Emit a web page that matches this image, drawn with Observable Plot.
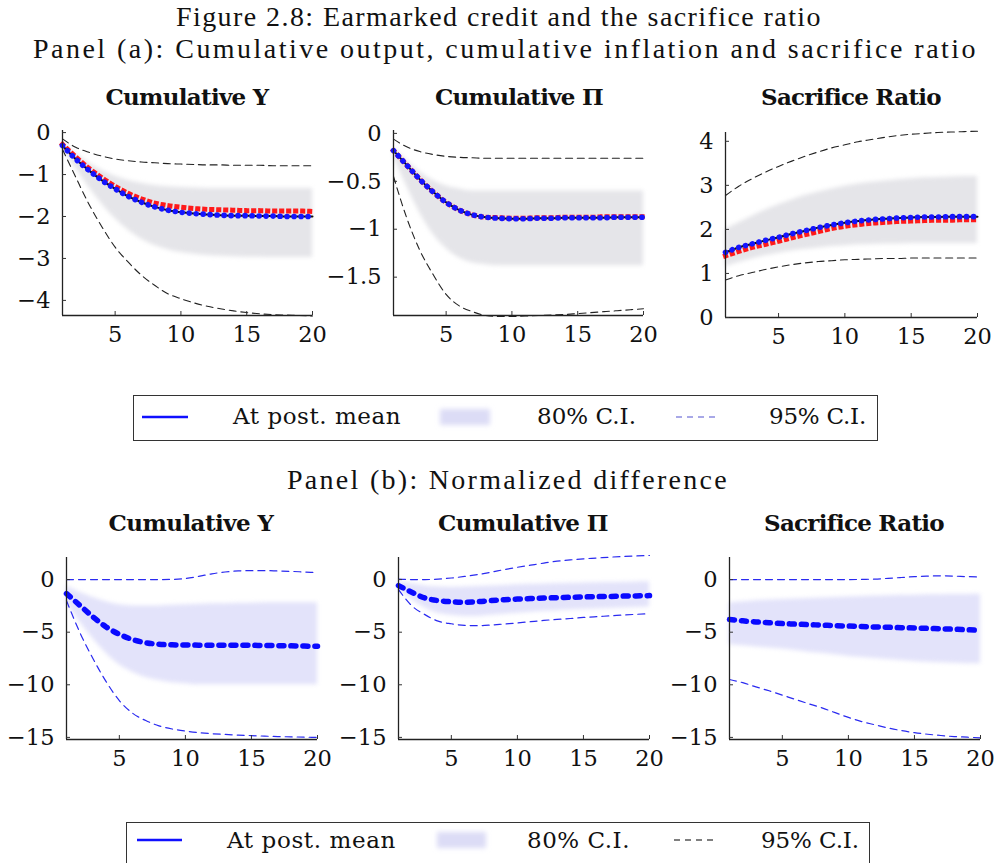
<!DOCTYPE html>
<html>
<head>
<meta charset="utf-8">
<script src="https://cdn.jsdelivr.net/npm/d3@7"></script>
<script src="https://cdn.jsdelivr.net/npm/@observablehq/plot@0.6"></script>
<style>
  html, body { margin: 0; padding: 0; background: #fff; overflow: hidden; }
  #page { position: relative; width: 998px; height: 863px; overflow: hidden; background: #fff; }
  .abs { position: absolute; white-space: nowrap; line-height: 1; color: #111; }
  .main { font-family: "Liberation Serif", serif; font-size: 28px; }
  .ptitle { font-family: "DejaVu Serif", serif; font-weight: bold; font-size: 23px; }
  .ltext { font-family: "DejaVu Serif", serif; font-size: 23px; }
  .legend { position: absolute; border: 1.3px solid #333; box-sizing: border-box; background: #fff; }
  .panel { position: absolute; }
  .panel svg { overflow: visible; }
</style>
</head>
<body>
<div id="page"></div>
<script>
// ---------------- data ----------------
const horizon = [1,2,3,4,5,6,7,8,9,10,11,12,13,14,15,16,17,18,19,20];

// Panel (a) – Cumulative Y
const cumY_median = [-0.31,-0.63,-0.9,-1.14,-1.34,-1.52,-1.66,-1.77,-1.85,-1.9,-1.93,-1.95,-1.97,-1.98,-1.98,-1.99,-1.99,-2.0,-2.0,-2.0];
const cumY_postMean = [-0.31,-0.63,-0.9,-1.14,-1.34,-1.52,-1.66,-1.77,-1.85,-1.9,-1.93,-1.95,-1.97,-1.98,-1.98,-1.99,-1.99,-2.0,-2.0,-2.0];
const cumY_alt = [-0.28,-0.58,-0.85,-1.08,-1.28,-1.45,-1.58,-1.68,-1.74,-1.78,-1.81,-1.83,-1.84,-1.85,-1.86,-1.86,-1.87,-1.87,-1.87,-1.88];
const cumY_hi95 = [-0.15,-0.35,-0.47,-0.56,-0.63,-0.67,-0.7,-0.72,-0.74,-0.75,-0.76,-0.77,-0.77,-0.78,-0.78,-0.78,-0.79,-0.79,-0.79,-0.79];
const cumY_lo95 = [-0.4,-1.06,-1.7,-2.25,-2.73,-3.09,-3.4,-3.64,-3.84,-3.96,-4.06,-4.14,-4.2,-4.25,-4.29,-4.32,-4.34,-4.35,-4.36,-4.37];
const cumY_hi80 = [-0.25,-0.5,-0.72,-0.9,-1.04,-1.14,-1.21,-1.26,-1.29,-1.31,-1.32,-1.33,-1.33,-1.33,-1.33,-1.33,-1.33,-1.33,-1.33,-1.33];
const cumY_lo80 = [-0.4,-0.85,-1.3,-1.7,-2.05,-2.33,-2.54,-2.69,-2.79,-2.86,-2.9,-2.93,-2.95,-2.96,-2.97,-2.97,-2.98,-2.98,-2.98,-2.98];

// Panel (a) – Cumulative Π
const cumP_median = [-0.18,-0.33,-0.48,-0.61,-0.72,-0.8,-0.85,-0.875,-0.885,-0.89,-0.89,-0.885,-0.885,-0.88,-0.88,-0.88,-0.88,-0.875,-0.875,-0.875];
const cumP_postMean = [-0.18,-0.33,-0.48,-0.61,-0.72,-0.8,-0.85,-0.875,-0.885,-0.89,-0.89,-0.885,-0.885,-0.88,-0.88,-0.88,-0.88,-0.875,-0.875,-0.875];
const cumP_alt = [-0.18,-0.33,-0.48,-0.61,-0.72,-0.8,-0.85,-0.875,-0.88,-0.885,-0.885,-0.88,-0.88,-0.875,-0.875,-0.875,-0.87,-0.87,-0.87,-0.87];
const cumP_hi95 = [-0.06,-0.14,-0.19,-0.22,-0.24,-0.25,-0.255,-0.26,-0.26,-0.26,-0.26,-0.26,-0.26,-0.26,-0.26,-0.26,-0.26,-0.26,-0.26,-0.26];
const cumP_lo95 = [-0.45,-0.88,-1.22,-1.47,-1.68,-1.8,-1.86,-1.9,-1.91,-1.91,-1.905,-1.9,-1.895,-1.89,-1.88,-1.87,-1.86,-1.85,-1.84,-1.83];
const cumP_hi80 = [-0.15,-0.28,-0.4,-0.49,-0.55,-0.58,-0.6,-0.6,-0.6,-0.6,-0.6,-0.6,-0.6,-0.6,-0.6,-0.6,-0.6,-0.6,-0.6,-0.6];
const cumP_lo80 = [-0.25,-0.55,-0.83,-1.05,-1.2,-1.3,-1.35,-1.37,-1.38,-1.38,-1.38,-1.38,-1.38,-1.38,-1.38,-1.38,-1.38,-1.38,-1.38,-1.38];

// Panel (a) – Sacrifice ratio
const sr_median = [1.48,1.59,1.67,1.75,1.82,1.9,1.97,2.04,2.1,2.15,2.19,2.22,2.24,2.26,2.27,2.28,2.28,2.29,2.29,2.29];
const sr_postMean = [1.48,1.59,1.67,1.75,1.82,1.9,1.97,2.04,2.1,2.15,2.19,2.22,2.24,2.26,2.27,2.28,2.28,2.29,2.29,2.29];
const sr_alt = [1.4,1.5,1.59,1.66,1.73,1.81,1.88,1.95,2.02,2.07,2.11,2.14,2.16,2.18,2.19,2.2,2.21,2.21,2.22,2.22];
const sr_hi95 = [2.77,2.98,3.15,3.3,3.43,3.55,3.66,3.76,3.85,3.92,3.99,4.04,4.09,4.13,4.16,4.18,4.2,4.21,4.22,4.23];
const sr_lo95 = [0.85,0.95,1.02,1.09,1.15,1.2,1.24,1.27,1.29,1.31,1.32,1.33,1.34,1.34,1.35,1.35,1.35,1.35,1.35,1.35];
const sr_hi80 = [2.0,2.15,2.3,2.44,2.56,2.67,2.77,2.85,2.92,2.98,3.03,3.07,3.1,3.13,3.15,3.17,3.18,3.19,3.2,3.2];
const sr_lo80 = [1.15,1.25,1.33,1.4,1.46,1.51,1.55,1.58,1.61,1.63,1.65,1.66,1.67,1.67,1.68,1.68,1.68,1.68,1.68,1.68];

// Panel (b) – normalized differences
const dY_mean = [-1.33,-2.44,-3.54,-4.5,-5.2,-5.7,-6.0,-6.15,-6.2,-6.22,-6.23,-6.23,-6.23,-6.24,-6.25,-6.26,-6.28,-6.3,-6.32,-6.34];
const dY_hi95 = [0,0,0,0,0,0,0,0,0.02,0.1,0.3,0.55,0.72,0.82,0.85,0.85,0.82,0.78,0.72,0.66];
const dY_lo95 = [-2.0,-5.0,-7.5,-9.7,-11.5,-12.7,-13.4,-13.9,-14.2,-14.4,-14.55,-14.65,-14.72,-14.78,-14.83,-14.88,-14.92,-14.95,-14.98,-15.0];
const dY_hi80 = [-0.6,-1.2,-1.7,-2.1,-2.4,-2.5,-2.5,-2.5,-2.45,-2.4,-2.35,-2.3,-2.3,-2.25,-2.25,-2.2,-2.2,-2.2,-2.2,-2.2];
const dY_lo80 = [-2.2,-4.0,-5.6,-7.0,-8.1,-8.8,-9.3,-9.6,-9.8,-9.9,-10.0,-10.0,-10.0,-10.0,-10.0,-10.0,-10.0,-10.0,-10.0,-10.0];

const dP_mean = [-0.57,-1.2,-1.75,-2.0,-2.1,-2.15,-2.1,-2.0,-1.92,-1.85,-1.8,-1.75,-1.72,-1.68,-1.65,-1.62,-1.6,-1.57,-1.55,-1.52];
const dP_hi95 = [0.05,0,0,0.05,0.15,0.3,0.48,0.7,0.95,1.17,1.37,1.57,1.75,1.87,1.97,2.05,2.13,2.2,2.25,2.29];
const dP_lo95 = [-0.95,-2.48,-3.33,-3.95,-4.2,-4.35,-4.38,-4.32,-4.22,-4.12,-4.0,-3.88,-3.78,-3.7,-3.6,-3.52,-3.45,-3.37,-3.3,-3.24];
const dP_hi80 = [-0.2,-0.4,-0.6,-0.7,-0.72,-0.7,-0.65,-0.6,-0.55,-0.5,-0.45,-0.42,-0.38,-0.35,-0.32,-0.3,-0.28,-0.25,-0.22,-0.2];
const dP_lo80 = [-0.9,-1.9,-2.7,-3.2,-3.4,-3.5,-3.5,-3.4,-3.3,-3.2,-3.1,-3.0,-2.95,-2.9,-2.85,-2.8,-2.75,-2.7,-2.65,-2.6];

const dS_mean = [-3.8,-3.92,-4.02,-4.1,-4.18,-4.23,-4.28,-4.33,-4.38,-4.42,-4.46,-4.5,-4.53,-4.57,-4.6,-4.64,-4.68,-4.72,-4.77,-4.82];
const dS_hi95 = [0,0,0,0,0,0,0,0,0,0,0.02,0.05,0.12,0.2,0.28,0.33,0.36,0.33,0.28,0.25];
const dS_lo95 = [-9.5,-9.8,-10.2,-10.57,-10.98,-11.4,-11.8,-12.2,-12.65,-13.1,-13.5,-13.8,-14.1,-14.35,-14.55,-14.7,-14.82,-14.92,-14.98,-15.05];
const dS_hi80 = [-2.2,-2.1,-2.0,-1.95,-1.9,-1.85,-1.8,-1.75,-1.7,-1.65,-1.6,-1.57,-1.54,-1.5,-1.48,-1.45,-1.43,-1.42,-1.41,-1.4];
const dS_lo80 = [-6.2,-6.3,-6.4,-6.5,-6.6,-6.75,-6.9,-7.0,-7.15,-7.3,-7.4,-7.5,-7.6,-7.7,-7.78,-7.85,-7.9,-7.95,-8.0,-8.0];

// ticks / labels
const xTicks = [5, 10, 15, 20];
const ticksCumY = [0, -1, -2, -3, -4];
const ticksCumP = [0, -0.5, -1, -1.5];
const ticksSR = [0, 1, 2, 3, 4];
const ticksDiff = [0, -5, -10, -15];
const figureTitle = "Figure 2.8: Earmarked credit and the sacrifice ratio";
const panelATitle = "Panel (a): Cumulative output, cumulative inflation and sacrifice ratio";
const panelBTitle = "Panel (b): Normalized difference";
const subTitles = ["Cumulative Y", "Cumulative \u03A0", "Sacrifice Ratio"];
const legendLabels = ["At post. mean", "80% C.I.", "95% C.I."];

// ---------------- drawing ----------------
const page = document.getElementById("page");
const fmt = d => String(d).replace("-", "\u2212");

function panelPlot(cfg) {
  const top = cfg.kind === "a";
  const marks = [
    Plot.areaY(horizon, {x: horizon, y1: cfg.lo80, y2: cfg.hi80, curve: "monotone-x",
      fill: top ? "#bdbdc9" : "#c8c8f6", fillOpacity: top ? 0.4 : 0.5, imageFilter: "blur(2px)"}),
    Plot.lineY(horizon, {x: horizon, y: cfg.hi95, curve: "monotone-x",
      stroke: top ? "#222" : "#2a2af0", strokeWidth: top ? 1.1 : 1.2, strokeDasharray: top ? "7,4.7" : "7,5"}),
    Plot.lineY(horizon, {x: horizon, y: cfg.lo95, curve: "monotone-x",
      stroke: top ? "#222" : "#2a2af0", strokeWidth: top ? 1.1 : 1.2, strokeDasharray: top ? "7,4.7" : "7,5"})
  ];
  if (top) {
    marks.push(
      Plot.lineY(horizon, {x: horizon, y: cfg.alt, curve: "monotone-x", stroke: "#ff1a1a",
        strokeWidth: 5, strokeDasharray: "0.1,6.9", strokeLinecap: "square"}),
      Plot.lineY(horizon, {x: horizon, y: cfg.median, curve: "monotone-x", stroke: "#111", strokeWidth: 2}),
      Plot.lineY(horizon, {x: horizon, y: cfg.mean, curve: "monotone-x", stroke: "#1414ff",
        strokeWidth: 5.6, strokeDasharray: "0.1,6.9", strokeLinecap: "round"})
    );
  } else {
    marks.push(
      Plot.lineY(horizon, {x: horizon, y: cfg.mean, curve: "monotone-x", stroke: "#0a0aff",
        strokeWidth: 5.5, strokeDasharray: "5,7"})
    );
  }
  marks.push(
    Plot.ruleX([1], {stroke: "#222", strokeWidth: 1.3}),
    Plot.ruleY([cfg.yDomain[0]], {stroke: "#222", strokeWidth: 1.3}),
    Plot.axisX(xTicks, {tickSize: -4, tickPadding: 15, tickFormat: fmt, label: null, stroke: "#333", fill: "#111"}),
    Plot.axisY(cfg.yTicks, {tickSize: -4, tickPadding: 16, tickFormat: fmt, label: null, stroke: "#333", fill: "#111"})
  );
  const svg = Plot.plot({
    width: cfg.width, height: cfg.height,
    marginLeft: cfg.ml, marginRight: cfg.mr, marginTop: cfg.mt, marginBottom: cfg.mb,
    x: {domain: [1, 20]},
    y: {domain: cfg.yDomain},
    style: {fontFamily: "DejaVu Serif, serif", fontSize: "22.5px", background: "transparent", color: "#111"},
    marks
  });
  const wrap = document.createElement("div");
  wrap.className = "panel";
  wrap.style.left = cfg.left + "px";
  wrap.style.top = cfg.top + "px";
  wrap.appendChild(svg);
  page.appendChild(wrap);
}

// top row (panel a)
panelPlot({kind: "a", left: 0, top: 110, width: 330, height: 250, ml: 62, mr: 18, mt: 20, mb: 45,
  yDomain: [-4.36, 0.05], yTicks: ticksCumY, lo80: cumY_lo80, hi80: cumY_hi80, lo95: cumY_lo95, hi95: cumY_hi95,
  alt: cumY_alt, median: cumY_median, mean: cumY_postMean});
panelPlot({kind: "a", left: 330, top: 110, width: 330, height: 250, ml: 63, mr: 17, mt: 20, mb: 45,
  yDomain: [-1.9, 0.03], yTicks: ticksCumP, lo80: cumP_lo80, hi80: cumP_hi80, lo95: cumP_lo95, hi95: cumP_hi95,
  alt: cumP_alt, median: cumP_median, mean: cumP_postMean});
panelPlot({kind: "a", left: 665, top: 110, width: 333, height: 250, ml: 60, mr: 21, mt: 22, mb: 43,
  yDomain: [0, 4.2], yTicks: ticksSR, lo80: sr_lo80, hi80: sr_hi80, lo95: sr_lo95, hi95: sr_hi95,
  alt: sr_alt, median: sr_median, mean: sr_postMean});

// bottom row (panel b)
panelPlot({kind: "b", left: 0, top: 540, width: 335, height: 240, ml: 66, mr: 18, mt: 17, mb: 41,
  yDomain: [-15.2, 2.1], yTicks: ticksDiff, lo80: dY_lo80, hi80: dY_hi80, lo95: dY_lo95, hi95: dY_hi95, mean: dY_mean});
panelPlot({kind: "b", left: 335, top: 540, width: 330, height: 240, ml: 63, mr: 16, mt: 17, mb: 41,
  yDomain: [-15.2, 2.1], yTicks: ticksDiff, lo80: dP_lo80, hi80: dP_hi80, lo95: dP_lo95, hi95: dP_hi95, mean: dP_mean});
panelPlot({kind: "b", left: 665, top: 540, width: 333, height: 240, ml: 64, mr: 18, mt: 17, mb: 41,
  yDomain: [-15.2, 2.1], yTicks: ticksDiff, lo80: dS_lo80, hi80: dS_hi80, lo95: dS_lo95, hi95: dS_hi95, mean: dS_mean});

// ---------------- text ----------------
function addText(txt, cls, x, baseline, targetW, align) {
  const el = document.createElement("div");
  el.className = "abs " + cls;
  el.textContent = txt;
  page.appendChild(el);
  const fs = parseFloat(getComputedStyle(el).fontSize);
  const asc = cls === "main" ? 0.84 : 0.85;
  el.style.top = (baseline - asc * fs) + "px";
  if (targetW) {
    const w = el.getBoundingClientRect().width;
    const n = txt.length;
    el.style.letterSpacing = ((targetW - w) / n) + "px";
  }
  const w2 = el.getBoundingClientRect().width;
  el.style.left = (align === "left" ? x : x - w2 / 2) + "px";
  return el;
}

addText(figureTitle, "main", 499, 27, 646);
addText(panelATitle, "main", 505.5, 59, 945);
addText(panelBTitle, "main", 508, 490, 442);

addText(subTitles[0], "ptitle", 187, 105, 163);
addText(subTitles[1], "ptitle", 519, 105, 168);
addText(subTitles[2], "ptitle", 851, 105, 178);
addText(subTitles[0], "ptitle", 191, 531, 165);
addText(subTitles[1], "ptitle", 523, 531, 170);
addText(subTitles[2], "ptitle", 854, 531, 178);

// ---------------- legends ----------------
function legend(box, items, dashColor) {
  const b = document.createElement("div");
  b.className = "legend";
  b.style.left = box.x + "px"; b.style.top = box.y + "px";
  b.style.width = box.w + "px"; b.style.height = box.h + "px";
  page.appendChild(b);
  const ns = "http://www.w3.org/2000/svg";
  const sw = document.createElementNS(ns, "svg");
  sw.setAttribute("width", 998); sw.setAttribute("height", 863);
  sw.style.position = "absolute"; sw.style.left = "0px"; sw.style.top = "0px"; sw.style.overflow = "visible";
  const cy = items.cy;
  sw.innerHTML =
    `<defs><filter id="lb${box.y}" x="-20%" y="-50%" width="140%" height="200%"><feGaussianBlur stdDeviation="2.5"/></filter></defs>` +
    `<line x1="${items.line[0]}" x2="${items.line[1]}" y1="${cy}" y2="${cy}" stroke="#1010ff" stroke-width="2.6"/>` +
    `<rect x="${items.shade[0]}" y="${cy - 8}" width="${items.shade[1] - items.shade[0]}" height="16" fill="#dcdcf6" filter="url(#lb${box.y})"/>` +
    `<line x1="${items.dash[0]}" x2="${items.dash[1]}" y1="${cy}" y2="${cy}" stroke="${dashColor}" stroke-width="1.3" stroke-dasharray="6,5"/>`;
  page.appendChild(sw);
  addText(legendLabels[0], "ltext", items.t1[0], items.base, items.t1[1] - items.t1[0], "left");
  addText(legendLabels[1], "ltext", items.t2[0], items.base, items.t2[1] - items.t2[0], "left");
  addText(legendLabels[2], "ltext", items.t3[0], items.base, items.t3[1] - items.t3[0], "left");
}

legend({x: 133, y: 395, w: 745, h: 46},
  {cy: 417, base: 425, line: [142, 188], t1: [233, 401], shade: [440, 490], t2: [537, 636], dash: [676, 720], t3: [769, 866]},
  "#8c8ce0");
legend({x: 126, y: 822, w: 744, h: 46},
  {cy: 840, base: 849, line: [137, 182], t1: [227, 396], shade: [437, 486], t2: [527, 630], dash: [674, 713], t3: [761, 859]},
  "#555");
</script>
</body>
</html>
